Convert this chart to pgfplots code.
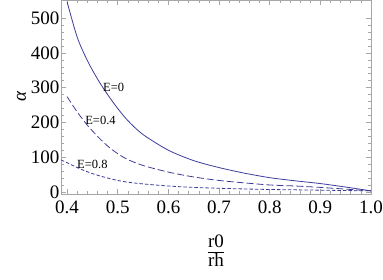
\documentclass[border=0pt]{standalone}
\usepackage{pgfplots}
\pgfplotsset{compat=1.18}
\usepackage{fontspec}
\setmainfont{Liberation Serif}
\definecolor{mblue}{rgb}{0.24,0.24,0.6}
\begin{document}
\begin{tikzpicture}
\begin{axis}[
  scale only axis,
  width=310pt, height=194pt,
  xmin=0.388, xmax=1.0, ymin=-6, ymax=552,
  xtick={0.4,0.5,0.6,0.7,0.8,0.9,1.0},
  xticklabels={0.4,0.5,0.6,0.7,0.8,0.9,1.0},
  ytick={0,100,200,300,400,500},
  minor x tick num=4, minor y tick num=4,
  major tick length=5pt, minor tick length=3pt,
  axis line style={gray!70},
  every tick/.style={gray!70, line width=0.5pt},
  tick label style={font=\fontsize{19}{19}\selectfont},
  /pgf/number format/assume math mode=true,
  yticklabel style={xshift=2pt},
  xticklabel style={yshift=-3pt},
  xlabel={$\displaystyle\frac{\mbox{\fontsize{19}{19}\selectfont r0}}{\mbox{\fontsize{19}{19}\selectfont rh}}$},
  ylabel={\fontsize{19}{19}\selectfont\itshape α},
  xlabel style={yshift=-15pt},
  ylabel style={yshift=-2pt},
  clip=true,
]
\addplot[mblue, line width=0.8pt, smooth] coordinates {
(0.4,547) (0.42,445) (0.44,378) (0.46,325) (0.48,280) (0.5,240) (0.52,205)
(0.55,165) (0.6,120) (0.65,90) (0.7,70) (0.75,54) (0.8,41) (0.85,32) (0.9,24) (0.95,14) (1.0,3)};
\addplot[mblue, line width=0.8pt, smooth, dash pattern=on 7pt off 3pt] coordinates {
(0.4,274) (0.42,230) (0.44,192) (0.46,160) (0.48,132) (0.5,110) (0.52,93)
(0.55,76) (0.6,57) (0.65,43) (0.7,33) (0.75,26) (0.8,20) (0.85,17) (0.9,13) (0.95,8) (1.0,3)};
\addplot[mblue, line width=0.8pt, smooth, dash pattern=on 3.5pt off 2pt] coordinates {
(0.388,92) (0.4,84) (0.42,70) (0.44,58) (0.46,48) (0.48,40) (0.5,33) (0.52,28)
(0.55,23) (0.6,17) (0.65,13) (0.7,10.5) (0.75,8.5) (0.8,7) (0.85,6) (0.9,5) (0.95,4) (1.0,3)};
\node[font=\fontsize{12.5}{12.5}\selectfont] at (axis cs:0.492,302) {E=0};
\node[font=\fontsize{12.5}{12.5}\selectfont] at (axis cs:0.466,207) {E=0.4};
\node[font=\fontsize{12.5}{12.5}\selectfont] at (axis cs:0.450,78) {E=0.8};
\end{axis}
\pgfresetboundingbox
\path[use as bounding box] (-61pt,-85pt) rectangle (322pt,194pt);
\end{tikzpicture}
\end{document}
